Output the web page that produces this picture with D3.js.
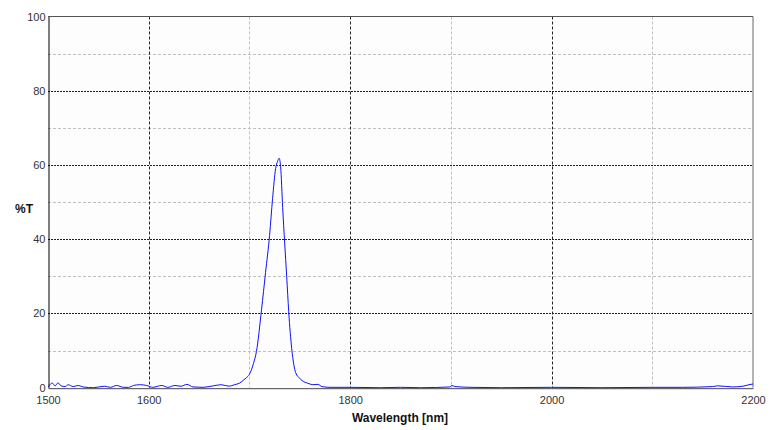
<!DOCTYPE html>
<html><head><meta charset="utf-8">
<script src="https://cdn.jsdelivr.net/npm/d3@7"></script>
<style>
html,body{margin:0;padding:0;background:#fff;}
svg text{font-family:"Liberation Sans Narrow","Arial Narrow","Liberation Sans",sans-serif;}
</style></head>
<body><svg id="c" width="770" height="430"></svg>
<script>
const wavelengths = [1500,1502,1504,1507,1510,1513,1517,1520,1525,1530,1535,1545,1556,1562,1568,1575,1580,1585,1591,1598,1604,1613,1619,1626,1632,1638,1644,1654,1664,1672,1680,1685,1690,1694,1697,1700,1704,1707,1712,1716,1720,1723,1726,1728,1729.5,1731,1733,1735,1737,1739,1742,1746,1750,1754,1758,1763,1768,1772,1780,1800,1830,1850,1870,1899,1901,1904,1920,1950,2000,2050,2100,2130,2160,2165,2180,2190,2196,2200];
const transmission = [0.3,0.8,1.3,0.5,1.3,0.5,0.3,0.8,0.3,0.6,0.2,0.0,0.4,0.1,0.6,0.1,0.1,0.6,0.8,0.6,0.1,0.6,0.1,0.6,0.4,0.9,0.2,0.1,0.5,0.8,0.4,0.8,1.2,2.0,2.7,3.6,6.5,9.8,21,31,41,51,59,61,61.8,59.5,48.5,39,30,20.5,10.5,4.0,2.5,1.6,1.2,0.8,0.9,0.3,0.1,0.1,0.0,0.1,0.0,0.2,0.6,0.3,0.1,0.0,0.1,0.0,0.1,0.1,0.3,0.5,0.2,0.4,0.8,1.0];
const xTicks = [1500,1600,1800,2000,2200];
const xMajorGrid = [1600,1800,2000];
const xMinorGrid = [1700,1900,2100];
const yTicks = [0,20,40,60,80,100];
const yMajorGrid = [20,40,60,80];
const yMinorGrid = [10,30,50,70,90];

const svg = d3.select("#c");
const L=48, R=753, T=16.5, B=387.7;
const x = d3.scaleLinear().domain([1500,2200]).range([L,R]);
const y = d3.scaleLinear().domain([0,100]).range([B,T]);

svg.append("rect").attr("x",L).attr("y",T).attr("width",R-L).attr("height",B-T).attr("fill","#fdfdfd");

const g = svg.append("g");
g.selectAll(".yminor").data(yMinorGrid).join("line")
  .attr("x1",L).attr("x2",R).attr("y1",d=>Math.round(y(d))+0.5).attr("y2",d=>Math.round(y(d))+0.5)
  .attr("stroke","#c0c0c0").attr("stroke-dasharray","3,2");
g.selectAll(".xminor").data(xMinorGrid).join("line")
  .attr("y1",T).attr("y2",B).attr("x1",d=>Math.round(x(d))+0.5).attr("x2",d=>Math.round(x(d))+0.5)
  .attr("stroke","#c0c0c0").attr("stroke-dasharray","3,2");
g.selectAll(".ymajor").data(yMajorGrid).join("line")
  .attr("x1",L).attr("x2",R).attr("y1",d=>Math.round(y(d))+0.5).attr("y2",d=>Math.round(y(d))+0.5)
  .attr("stroke","#222").attr("stroke-dasharray","2,1");
g.selectAll(".xmajor").data(xMajorGrid).join("line")
  .attr("y1",T).attr("y2",B).attr("x1",d=>Math.round(x(d))+0.5).attr("x2",d=>Math.round(x(d))+0.5)
  .attr("stroke","#222").attr("stroke-dasharray","3,2");

// frame
svg.append("line").attr("x1",L).attr("x2",R).attr("y1",T).attr("y2",T).attr("stroke","#555");
svg.append("line").attr("x1",R).attr("x2",R).attr("y1",T).attr("y2",B).attr("stroke","#666");

// data line
const line = d3.line().x((d,i)=>x(wavelengths[i])).y(d=>y(d)).curve(d3.curveMonotoneX);
svg.append("path").datum(transmission).attr("d",line)
  .attr("fill","none").attr("stroke","#1010ff").attr("stroke-width",1);

// axes
const yAxis = d3.axisLeft(y).tickValues(yTicks).tickSize(0).tickPadding(3).tickFormat(d3.format("d"));
const ya = svg.append("g").attr("transform",`translate(${L+0.5},0)`).call(yAxis);
ya.select(".domain").attr("stroke","#000");
ya.selectAll("text").attr("font-size",11).attr("fill","#333")
  .style("font-family",'"Liberation Sans Narrow","Arial Narrow",sans-serif');

const xAxis = d3.axisBottom(x).tickValues(xTicks).tickSize(0).tickPadding(8).tickFormat(d3.format("d"));
const xa = svg.append("g").attr("transform",`translate(0,${B+0.5})`).call(xAxis);
xa.select(".domain").attr("stroke","#444");
xa.selectAll("text").attr("font-size",11).attr("fill","#333")
  .style("font-family",'"Liberation Sans Narrow","Arial Narrow",sans-serif');

svg.append("text").attr("x",400).attr("y",422).attr("text-anchor","middle")
  .attr("font-size",12).attr("font-weight","bold").attr("fill","#111").text("Wavelength [nm]");
svg.append("text").attr("x",15).attr("y",213).attr("text-anchor","start")
  .attr("font-size",12).attr("font-weight","bold").attr("fill","#111").text("%T");
</script></body></html>
